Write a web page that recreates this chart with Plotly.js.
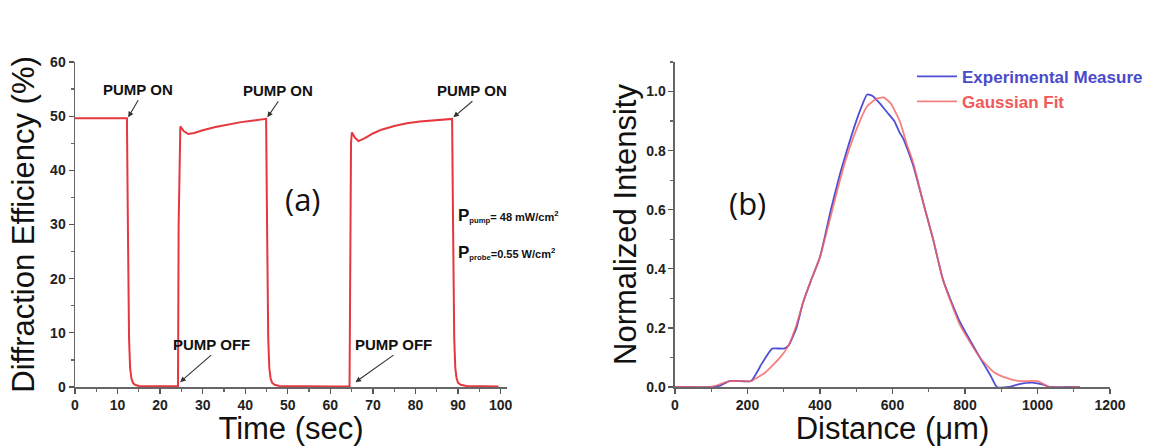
<!DOCTYPE html>
<html>
<head>
<meta charset="utf-8">
<script src="https://cdn.plot.ly/plotly-3.0.1.min.js"></script>
<style>html,body{margin:0;padding:0;background:#fff;}#chart{width:1166px;height:446px;}</style>
</head>
<body>
<div id="chart"></div>
<script>
// Panel (a): diffraction efficiency vs time
const timeSec = [0, 5, 10, 12.2, 12.45, 12.7, 12.95, 13.25, 13.6, 14.1, 15, 18, 21, 24.2, 24.35, 24.55, 24.75, 25.6, 26.6, 28, 30, 33, 36, 39, 42, 44.9, 45.15, 45.4, 45.65, 45.95, 46.3, 46.9, 48, 52, 56, 60, 64.5, 64.65, 64.85, 65.05, 65.8, 66.6, 68, 70, 72, 75, 78, 81, 84, 86.5, 88.6, 88.85, 89.1, 89.35, 89.65, 90, 90.6, 92, 95, 99.5];
const efficiency = [49.6, 49.6, 49.5, 49.6, 28, 9, 3.5, 1.6, 0.8, 0.4, 0.2, 0.15, 0.1, 0.15, 30, 46, 48.1, 47.2, 46.7, 46.9, 47.4, 48.0, 48.5, 48.9, 49.2, 49.5, 28, 9, 3.5, 1.6, 0.8, 0.4, 0.2, 0.15, 0.1, 0.1, 0.15, 30, 45, 47, 46.0, 45.4, 45.9, 46.8, 47.5, 48.2, 48.7, 49.0, 49.2, 49.4, 49.5, 28, 9, 3.5, 1.6, 0.8, 0.4, 0.2, 0.15, 0.1];

// Panel (b): normalized intensity profile
const distExp = [0, 50, 100, 125, 150, 180, 210, 240, 268, 300, 313, 335, 353, 375, 400, 430, 455, 474, 500, 515, 530, 545, 565, 585, 605, 620, 630, 657, 690, 712, 740, 786, 841, 870, 888, 920, 950, 985, 1010, 1035, 1080, 1117];
const intExp = [0, 0, 0, 0.005, 0.02, 0.02, 0.02, 0.08, 0.13, 0.13, 0.14, 0.2, 0.285, 0.36, 0.44, 0.6, 0.72, 0.8, 0.9, 0.95, 0.99, 0.985, 0.96, 0.93, 0.9, 0.86, 0.84, 0.75, 0.6, 0.5, 0.36, 0.22, 0.1, 0.04, 0.0, 0.0, 0.01, 0.015, 0.01, 0.0, 0.0, 0.0];
const distFit = [0, 50, 100, 125, 150, 180, 210, 250, 290, 313, 335, 353, 375, 400, 430, 455, 474, 500, 530, 555, 575, 595, 620, 640, 657, 690, 712, 740, 786, 841, 880, 916, 950, 1000, 1033, 1117];
const intFit = [0, 0, 0, 0.01, 0.02, 0.02, 0.02, 0.05, 0.1, 0.14, 0.21, 0.285, 0.36, 0.44, 0.58, 0.7, 0.78, 0.87, 0.95, 0.975, 0.98, 0.96, 0.9, 0.82, 0.76, 0.6, 0.5, 0.36, 0.21, 0.1, 0.05, 0.03, 0.02, 0.02, 0.0, 0.0];

const seriesNames = ['Experimental Measure', 'Gaussian Fit'];
const xTitleA = 'Time (sec)', yTitleA = 'Diffraction Efficiency (%)';
const xTitleB = 'Distance (μm)', yTitleB = 'Normalized Intensity';

const FONT = 'Liberation Sans, Arial, sans-serif';
const tickFont = {family: FONT, size: 14, color: '#222', weight: 'bold'};
const titleFont = {family: FONT, size: 31, color: '#111'};

function axisBase(extra) {
  return Object.assign({
    showline: true, linecolor: '#666', linewidth: 1.5,
    ticks: 'outside', ticklen: 5, tickwidth: 1.3, tickcolor: '#555',
    showgrid: false, zeroline: false, automargin: false,
    tickfont: tickFont
  }, extra);
}

const traces = [
  {x: timeSec, y: efficiency, xaxis: 'x', yaxis: 'y', mode: 'lines', showlegend: false,
   line: {color: '#e6363e', width: 2}},
  {x: distExp, y: intExp, xaxis: 'x2', yaxis: 'y2', mode: 'lines',
   name: '<span style="color:#4a4acb">' + seriesNames[0] + '</span>',
   line: {color: '#4f4fd6', width: 1.8, shape: 'spline', smoothing: 0.5}},
  {x: distFit, y: intFit, xaxis: 'x2', yaxis: 'y2', mode: 'lines', opacity: 0.8,
   name: '<span style="color:#f05a5a">' + seriesNames[1] + '</span>',
   line: {color: '#f26262', width: 1.8, shape: 'spline', smoothing: 0.5}}
];

const annFont = {family: FONT, size: 15, color: '#111', weight: 'bold'};
// label with arrow: (x, y) is the arrow tip, (ax, ay) the tail offset in px; text sits above the tail
function pump(txt, x, y, ax, ay) {
  return {xref: 'x', yref: 'y', x: x, y: y, text: txt, font: annFont,
          showarrow: true, ax: ax, ay: ay, xanchor: 'center', yanchor: 'bottom',
          arrowhead: 2, arrowsize: 1, arrowwidth: 1.1, arrowcolor: '#333'};
}

const layout = {
  width: 1166, height: 446,
  margin: {l: 75, r: 56, t: 62, b: 59},
  paper_bgcolor: '#fff', plot_bgcolor: '#fff',
  showlegend: true,
  legend: {x: 0.8087, y: 1.01, xanchor: 'left', yanchor: 'top', bgcolor: 'rgba(0,0,0,0)',
           font: {family: FONT, size: 17, weight: 'bold'}, itemwidth: 40},
  xaxis: axisBase({domain: [0, 0.4174], anchor: 'y', range: [0, 101.5], tick0: 0, dtick: 10,
    minor: {ticks: 'outside', ticklen: 3, dtick: 5, tickcolor: '#666'},
    title: {text: xTitleA, font: titleFont, standoff: 2}}),
  yaxis: axisBase({domain: [0, 1], anchor: 'x', range: [0, 60], tick0: 0, dtick: 10,
    minor: {ticks: 'outside', ticklen: 3, dtick: 5, tickcolor: '#666'},
    title: {text: yTitleA, font: titleFont, standoff: 6}}),
  xaxis2: axisBase({domain: [0.5797, 1], anchor: 'y2', range: [0, 1200], tick0: 0, dtick: 200,
    minor: {ticks: 'outside', ticklen: 3, dtick: 100, tickcolor: '#666'},
    title: {text: xTitleB, font: titleFont, standoff: 2}}),
  yaxis2: axisBase({domain: [0, 1], anchor: 'x2', range: [0, 1.1], tick0: 0, dtick: 0.2, tickformat: '.1f',
    minor: {ticks: 'outside', ticklen: 3, dtick: 0.1, tickcolor: '#666'},
    title: {text: yTitleB, font: titleFont, standoff: 0}}),
  annotations: [
    pump('PUMP ON', 12.5, 49.8, 10, -17),
    pump('PUMP ON', 45.2, 49.8, 11, -16),
    pump('PUMP ON', 88.9, 49.8, 19, -16),
    pump('PUMP OFF', 24.7, 0.9, 31, -27),
    pump('PUMP OFF', 65.9, 0.9, 38, -27),
    {xref: 'x', yref: 'y', x: 89.4, y: 31.75, xanchor: 'left', showarrow: false,
     text: '<span style="font-size:17px">P</span><sub>pump</sub>= 48 mW/cm<sup>2</sup>',
     font: {family: FONT, size: 11, color: '#111', weight: 'bold'}},
    {xref: 'x', yref: 'y', x: 89.4, y: 24.9, xanchor: 'left', showarrow: false,
     text: '<span style="font-size:17px">P</span><sub>probe</sub>=0.55 W/cm<sup>2</sup>',
     font: {family: FONT, size: 11, color: '#111', weight: 'bold'}},
    {xref: 'x', yref: 'y', x: 53.6, y: 34.7, text: '(a)', showarrow: false,
     font: {family: 'Open Sans, sans-serif', size: 31, color: '#111'}},
    {xref: 'x2', yref: 'y2', x: 201, y: 0.624, text: '(b)', showarrow: false,
     font: {family: 'Open Sans, sans-serif', size: 31, color: '#111'}}
  ]
};

Plotly.newPlot('chart', traces, layout, {staticPlot: true, displayModeBar: false});
</script>
</body>
</html>
